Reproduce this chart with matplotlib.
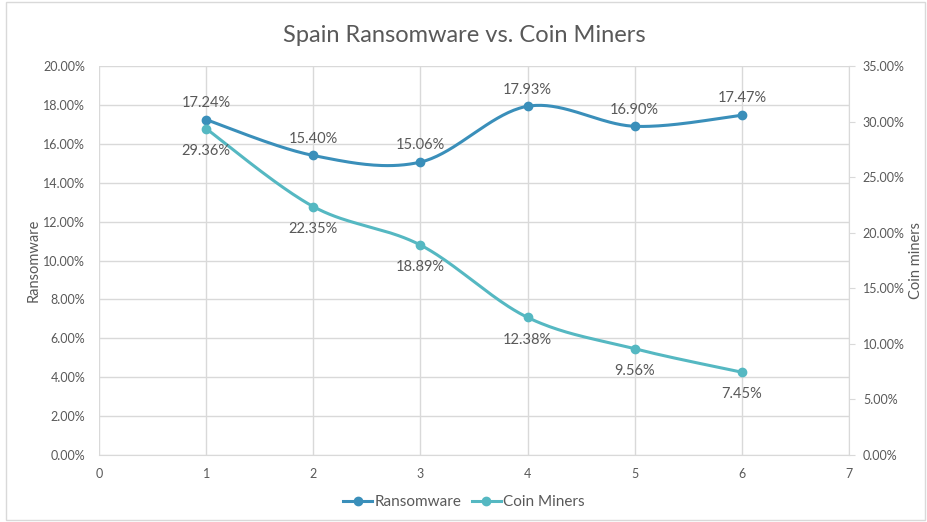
import matplotlib.pyplot as plt
import numpy as np
from matplotlib.patches import Rectangle
from matplotlib.ticker import FuncFormatter, MultipleLocator

plt.rcParams['font.family'] = ['Lato', 'DejaVu Sans']

# data
x = [1, 2, 3, 4, 5, 6]
ransomware = [17.24, 15.40, 15.06, 17.93, 16.90, 17.47]
coin_miners = [29.36, 22.35, 18.89, 12.38, 9.56, 7.45]

c_ransom = '#3A8FBA'
c_coin = '#55B8C2'
grey = '#595959'
grid = '#D9D9D9'


def smooth(xs, ys, n=40):
    # Catmull-Rom style bezier like excel smoothed lines
    xs = np.asarray(xs, float)
    ys = np.asarray(ys, float)
    px = np.concatenate([[xs[0]], xs, [xs[-1]]])
    py = np.concatenate([[ys[0]], ys, [ys[-1]]])
    out_x, out_y = [], []
    t = np.linspace(0, 1, n)
    for i in range(1, len(px) - 2):
        p0 = np.array([px[i - 1], py[i - 1]])
        p1 = np.array([px[i], py[i]])
        p2 = np.array([px[i + 1], py[i + 1]])
        p3 = np.array([px[i + 2], py[i + 2]])
        c1 = p1 + (p2 - p0) / 6
        c2 = p2 - (p3 - p1) / 6
        b = ((1 - t) ** 3)[:, None] * p1 + (3 * (1 - t) ** 2 * t)[:, None] * c1 \
            + (3 * (1 - t) * t ** 2)[:, None] * c2 + (t ** 3)[:, None] * p2
        out_x.extend(b[:, 0])
        out_y.extend(b[:, 1])
    return out_x, out_y


fig = plt.figure(figsize=(9.28, 5.22), dpi=100)
ax = fig.add_axes([99 / 928, 1 - 455 / 522, 750 / 928, 389 / 522])
ax2 = ax.twinx()

fig.patches.append(Rectangle((0.007, 0.004), 0.99, 0.992, transform=fig.transFigure,
                             fill=False, edgecolor=grid, lw=1))

ax.set_xlim(0, 7)
ax.set_ylim(0, 20)
ax2.set_ylim(0, 35)
ax.xaxis.set_major_locator(MultipleLocator(1))
ax.yaxis.set_major_locator(MultipleLocator(2))
ax2.yaxis.set_major_locator(MultipleLocator(5))
ax.yaxis.set_major_formatter(FuncFormatter(lambda v, p: f'{v:.2f}%'))
ax2.yaxis.set_major_formatter(FuncFormatter(lambda v, p: f'{v:.2f}%'))
ax.grid(True, color=grid, lw=1)
ax.set_axisbelow(True)

for a in (ax, ax2):
    for s in a.spines.values():
        s.set_visible(False)
ax.spines['bottom'].set_visible(True)
ax.spines['bottom'].set_color(grid)
ax2.spines['right'].set_visible(True)
ax2.spines['right'].set_color(grid)

ax.tick_params(axis='both', length=0, labelsize=9, labelcolor=grey, pad=9)
ax.tick_params(axis='y', pad=10)
ax2.tick_params(axis='y', length=4, color=grid, labelsize=9, labelcolor=grey, pad=6)

sx, sy = smooth(x, ransomware)
ax.plot(sx, sy, color=c_ransom, lw=2.2, zorder=3)
ax.plot(x, ransomware, 'o', color=c_ransom, ms=6, zorder=4)
cx, cy = smooth(x, coin_miners)
ax2.plot(cx, cy, color=c_coin, lw=2.2, zorder=3)
ax2.plot(x, coin_miners, 'o', color=c_coin, ms=6, zorder=4)

for xi, v in zip(x, ransomware):
    ax.annotate(f'{v:.2f}%', (xi, v), xytext=(0, 7), textcoords='offset points',
                ha='center', va='bottom', fontsize=10.5, color=grey)
for xi, v in zip(x, coin_miners):
    ax2.annotate(f'{v:.2f}%', (xi, v), xytext=(0, -11), textcoords='offset points',
                 ha='center', va='top', fontsize=10.5, color=grey)

ax.set_ylabel('Ransomware', fontsize=10.5, color=grey, labelpad=2)
ax2.set_ylabel('Coin miners', fontsize=10.5, color=grey, labelpad=3)
fig.text(0.5, 1 - 35 / 522, 'Spain Ransomware vs. Coin Miners', ha='center', va='center',
         fontsize=17, color=grey)

h1, = ax.plot([], [], '-o', color=c_ransom, lw=2.2, ms=6, label='Ransomware')
h2, = ax.plot([], [], '-o', color=c_coin, lw=2.2, ms=6, label='Coin Miners')
fig.legend(handles=[h1, h2], loc='center', bbox_to_anchor=(0.5, 1 - 502 / 522), ncol=2,
           frameon=False, fontsize=11, labelcolor=grey, handlelength=1.9,
           handletextpad=0.15, columnspacing=0.7)

fig.savefig('out.png', dpi=100)
